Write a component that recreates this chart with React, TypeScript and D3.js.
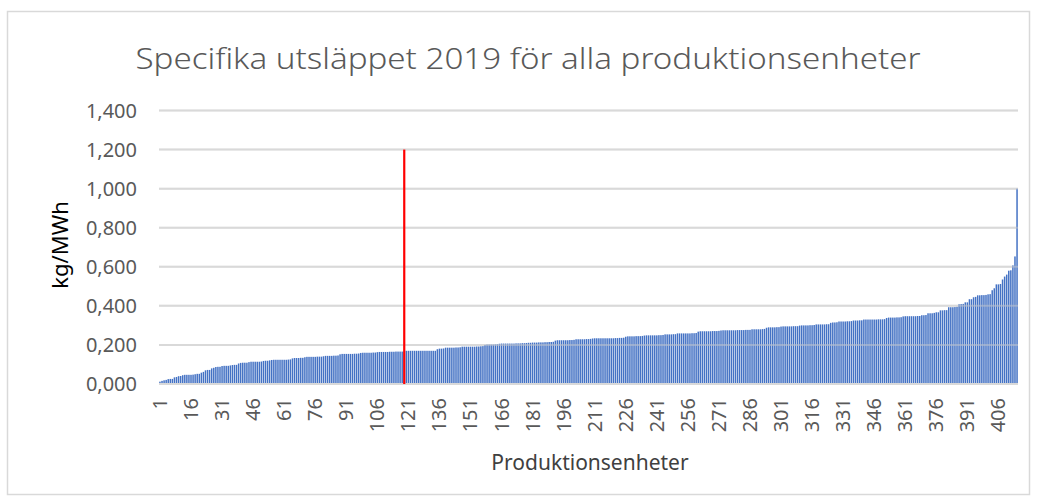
import React, { useEffect, useRef } from 'react';
import * as d3 from 'd3';

// specific emission per production unit, sorted ascending (kg/MWh)
const emissions: number[] = [
  0.012, 0.016, 0.019, 0.021, 0.025, 0.026, 0.026, 0.034, 0.036, 0.040, 0.041, 0.045, 0.047, 0.047, 0.047,
  0.047, 0.048, 0.050, 0.052, 0.052, 0.058, 0.062, 0.070, 0.072, 0.072, 0.080, 0.083, 0.087, 0.088, 0.088,
  0.092, 0.093, 0.093, 0.093, 0.095, 0.097, 0.098, 0.098, 0.105, 0.108, 0.109, 0.109, 0.109, 0.112, 0.114,
  0.114, 0.114, 0.114, 0.114, 0.115, 0.118, 0.119, 0.119, 0.121, 0.123, 0.124, 0.124, 0.124, 0.124, 0.124,
  0.124, 0.124, 0.125, 0.126, 0.131, 0.133, 0.133, 0.133, 0.134, 0.134, 0.137, 0.139, 0.139, 0.139, 0.139,
  0.139, 0.140, 0.140, 0.140, 0.142, 0.144, 0.144, 0.144, 0.144, 0.145, 0.145, 0.146, 0.152, 0.154, 0.154,
  0.154, 0.154, 0.154, 0.154, 0.155, 0.155, 0.156, 0.159, 0.160, 0.160, 0.160, 0.160, 0.160, 0.161, 0.161,
  0.163, 0.164, 0.164, 0.164, 0.164, 0.164, 0.165, 0.165, 0.165, 0.166, 0.166, 0.166, 0.166, 0.167, 0.170,
  0.170, 0.170, 0.170, 0.170, 0.170, 0.170, 0.170, 0.170, 0.170, 0.170, 0.170, 0.170, 0.170, 0.170, 0.178,
  0.181, 0.181, 0.182, 0.186, 0.186, 0.186, 0.186, 0.186, 0.187, 0.187, 0.188, 0.191, 0.191, 0.191, 0.191,
  0.191, 0.191, 0.191, 0.192, 0.192, 0.193, 0.194, 0.200, 0.202, 0.202, 0.202, 0.202, 0.203, 0.204, 0.206,
  0.207, 0.207, 0.207, 0.207, 0.207, 0.207, 0.207, 0.208, 0.208, 0.208, 0.209, 0.209, 0.210, 0.211, 0.211,
  0.212, 0.212, 0.212, 0.213, 0.213, 0.213, 0.214, 0.214, 0.215, 0.215, 0.216, 0.222, 0.224, 0.224, 0.224,
  0.224, 0.224, 0.224, 0.225, 0.225, 0.226, 0.229, 0.229, 0.229, 0.229, 0.229, 0.230, 0.230, 0.231, 0.233,
  0.234, 0.234, 0.234, 0.234, 0.234, 0.234, 0.234, 0.234, 0.234, 0.234, 0.235, 0.235, 0.236, 0.236, 0.237,
  0.242, 0.244, 0.244, 0.244, 0.244, 0.245, 0.245, 0.245, 0.246, 0.248, 0.249, 0.249, 0.249, 0.249, 0.249,
  0.249, 0.250, 0.250, 0.251, 0.254, 0.254, 0.254, 0.254, 0.255, 0.255, 0.259, 0.259, 0.259, 0.259, 0.259,
  0.259, 0.259, 0.260, 0.260, 0.261, 0.268, 0.270, 0.270, 0.270, 0.270, 0.270, 0.270, 0.271, 0.271, 0.271,
  0.272, 0.274, 0.275, 0.275, 0.275, 0.275, 0.275, 0.275, 0.275, 0.276, 0.276, 0.276, 0.276, 0.277, 0.277,
  0.277, 0.280, 0.280, 0.280, 0.280, 0.280, 0.281, 0.282, 0.288, 0.290, 0.290, 0.290, 0.290, 0.291, 0.291,
  0.294, 0.295, 0.295, 0.295, 0.295, 0.295, 0.296, 0.296, 0.296, 0.299, 0.300, 0.300, 0.300, 0.300, 0.301,
  0.301, 0.302, 0.305, 0.305, 0.305, 0.305, 0.305, 0.306, 0.306, 0.313, 0.315, 0.315, 0.316, 0.320, 0.320,
  0.320, 0.320, 0.321, 0.321, 0.322, 0.325, 0.325, 0.325, 0.326, 0.326, 0.330, 0.330, 0.330, 0.330, 0.330,
  0.330, 0.330, 0.331, 0.331, 0.331, 0.332, 0.338, 0.340, 0.340, 0.340, 0.340, 0.341, 0.341, 0.342, 0.346,
  0.347, 0.347, 0.347, 0.347, 0.347, 0.347, 0.348, 0.348, 0.352, 0.352, 0.353, 0.362, 0.362, 0.362, 0.364,
  0.367, 0.367, 0.377, 0.377, 0.378, 0.378, 0.393, 0.393, 0.393, 0.394, 0.395, 0.408, 0.409, 0.410, 0.418,
  0.418, 0.434, 0.434, 0.444, 0.446, 0.454, 0.454, 0.455, 0.455, 0.456, 0.459, 0.460, 0.480, 0.490, 0.510,
  0.510, 0.512, 0.535, 0.550, 0.560, 0.580, 0.582, 0.607, 0.653, 1.000
];

const units: number[] = emissions.map((_, i) => i + 1);
const xTickUnits: number[] = units.filter(u => (u - 1) % 15 === 0);
const yTicks: number[] = [0, 0.2, 0.4, 0.6, 0.8, 1.0, 1.2, 1.4];

// red marker line
const markerUnit = 119;
const markerTop = 1.2;

const title = 'Specifika utsläppet 2019 för alla produktionsenheter';
const yTitle = 'kg/MWh';
const xTitle = 'Produktionsenheter';

const App = () => {
  const svgRef = useRef<SVGSVGElement>(null);

  useEffect(() => {
    const width = 1037;
    const height = 503;
    const plot = { left: 159, right: 1018, top: 110.5, bottom: 384 };
    const font = "'Noto Sans', sans-serif";

    const svg = d3.select(svgRef.current);
    svg.selectAll('*').remove();
    svg.attr('width', width).attr('height', height);

    svg.append('rect')
      .attr('x', 0).attr('y', 0).attr('width', width).attr('height', height)
      .attr('fill', '#fff');

    // chart frame
    svg.append('rect')
      .attr('x', 7.5).attr('y', 11.5).attr('width', 1022).attr('height', 483)
      .attr('fill', 'none')
      .attr('stroke', '#d9d9d9')
      .attr('stroke-width', 1.5);

    const x = d3.scaleBand<number>().domain(units).range([plot.left, plot.right]).paddingInner(0.28).paddingOuter(0.1);
    const y = d3.scaleLinear().domain([0, 1.4]).range([plot.bottom, plot.top]);
    const fmt = d3.formatLocale({ decimal: ',', thousands: ' ', grouping: [3], currency: ['', ''] }).format('.3f');

    svg.append('g')
      .selectAll('line')
      .data(yTicks)
      .enter()
      .append('line')
      .attr('x1', plot.left)
      .attr('x2', plot.right)
      .attr('y1', d => y(d))
      .attr('y2', d => y(d))
      .attr('stroke', '#d9d9d9')
      .attr('stroke-width', 2);

    svg.append('g')
      .selectAll('rect')
      .data(emissions)
      .enter()
      .append('rect')
      .attr('x', (d, i) => x(units[i]) as number)
      .attr('width', x.bandwidth())
      .attr('y', d => y(d))
      .attr('height', d => y(0) - y(d))
      .attr('fill', '#4472c4');

    // faint trace of the gridlines across the bars, as in the original
    svg.append('g')
      .selectAll('line')
      .data(yTicks.filter(d => d > 0))
      .enter()
      .append('line')
      .attr('x1', plot.left)
      .attr('x2', plot.right)
      .attr('y1', d => y(d))
      .attr('y2', d => y(d))
      .attr('stroke', '#d9d9d9')
      .attr('stroke-width', 2)
      .attr('stroke-opacity', 0.45);

    svg.append('line')
      .attr('x1', plot.left).attr('x2', plot.right)
      .attr('y1', y(0)).attr('y2', y(0))
      .attr('stroke', '#d9d9d9')
      .attr('stroke-width', 2);

    svg.append('g')
      .selectAll('text')
      .data(yTicks)
      .enter()
      .append('text')
      .attr('x', 137)
      .attr('y', d => y(d))
      .attr('dy', '0.35em')
      .attr('text-anchor', 'end')
      .style('font-family', font)
      .style('font-size', '20px')
      .attr('fill', '#595959')
      .text(d => fmt(d));

    svg.append('g')
      .selectAll('text')
      .data(xTickUnits)
      .enter()
      .append('text')
      .attr('transform', d => `translate(${(x(d) as number) + x.bandwidth() / 2},398) rotate(-90)`)
      .attr('dy', '0.35em')
      .attr('text-anchor', 'end')
      .style('font-family', font)
      .style('font-size', '20px')
      .attr('fill', '#595959')
      .text(d => String(d));

    const mx = (x(markerUnit) as number) + x.bandwidth() / 2;
    svg.append('line')
      .attr('x1', mx).attr('x2', mx)
      .attr('y1', y(0)).attr('y2', y(markerTop))
      .attr('stroke', '#ff0000')
      .attr('stroke-width', 2.2);

    svg.append('text')
      .attr('x', 528)
      .attr('y', 69)
      .attr('text-anchor', 'middle')
      .attr('textLength', 785)
      .attr('lengthAdjust', 'spacingAndGlyphs')
      .style('font-family', font)
      .style('font-size', '30px')
      .style('font-weight', 300)
      .attr('fill', '#595959')
      .text(title);

    svg.append('text')
      .attr('transform', 'translate(68,245) rotate(-90)')
      .attr('text-anchor', 'middle')
      .style('font-family', font)
      .style('font-size', '22px')
      .attr('fill', '#000')
      .text(yTitle);

    svg.append('text')
      .attr('x', 590)
      .attr('y', 470)
      .attr('text-anchor', 'middle')
      .style('font-family', font)
      .style('font-size', '21px')
      .attr('fill', '#404040')
      .text(xTitle);
  }, []);

  return (
    <div style={{ position: 'absolute', left: 0, top: 0 }}>
      <svg ref={svgRef}></svg>
    </div>
  );
};

export default App;
